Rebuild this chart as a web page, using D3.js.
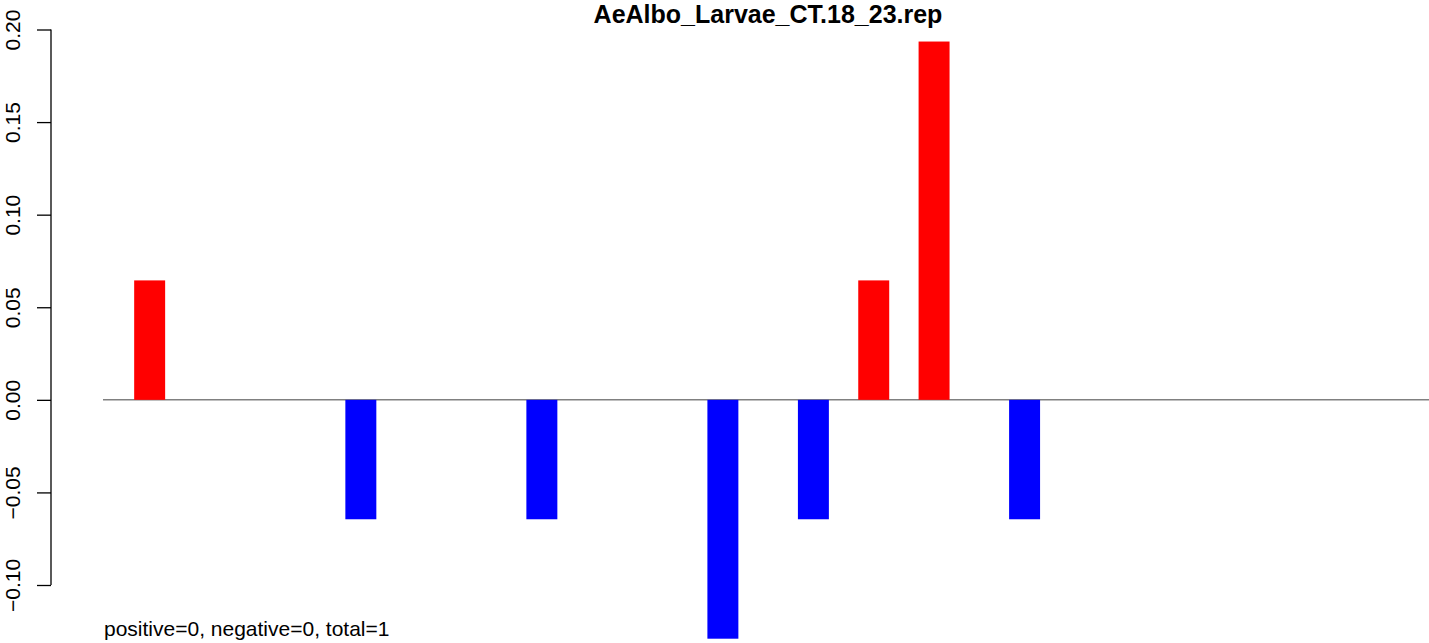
<!DOCTYPE html>
<html>
<head>
<meta charset="utf-8">
<script src="https://cdn.jsdelivr.net/npm/d3@7"></script>
<style>
  html, body { margin: 0; padding: 0; background: #fff; }
  svg { display: block; font-family: "Liberation Sans", Arial, sans-serif; }
</style>
</head>
<body>
<div id="chart"></div>
<script>
// ---- data ----
const title = "AeAlbo_Larvae_CT.18_23.rep";
const footnote = "positive=0, negative=0, total=1";
const nPositions = 44;                       // number of slots on the x axis
const positions = [2, 9, 15, 21, 24, 26, 28, 31];   // 1-based slot of each bar
const values = [0.0645, -0.0645, -0.0645, -0.129, -0.0645, 0.0645, 0.1935, -0.0645];
const yTicks = [-0.10, -0.05, 0.00, 0.05, 0.10, 0.15, 0.20];
const yTickLabels = ["\u22120.10", "\u22120.05", "0.00", "0.05", "0.10", "0.15", "0.20"];

// ---- layout ----
const W = 1429, H = 643;
const svg = d3.select("#chart").append("svg").attr("width", W).attr("height", H);

const slots = d3.range(1, nPositions + 1);
const x = d3.scaleBand().domain(slots).range([104, 104 + nPositions * 30.17]).paddingInner(0).paddingOuter(0);
const y = d3.scaleLinear().domain([-0.10, 0.20]).range([585, 29.5]);

// zero line
svg.append("line")
  .attr("x1", 103).attr("x2", W)
  .attr("y1", y(0)).attr("y2", y(0))
  .attr("stroke", "#808080").attr("stroke-width", 1.5);

// bars
const data = positions.map((p, i) => ({ pos: p, v: values[i] }));
svg.append("g").selectAll("rect").data(data).join("rect")
  .attr("x", d => x(d.pos))
  .attr("width", x.bandwidth() + 0.8)
  .attr("y", d => y(Math.max(0, d.v)))
  .attr("height", d => Math.abs(y(d.v) - y(0)))
  .attr("fill", d => d.v >= 0 ? "#ff0000" : "#0000ff");

// y axis
const yAxis = d3.axisLeft(y).tickValues(yTicks)
  .tickFormat((d, i) => yTickLabels[i]).tickSize(14).tickPadding(0);
const gy = svg.append("g").attr("transform", "translate(51,0)").call(yAxis);
gy.select(".domain").attr("stroke", "#000").attr("stroke-width", 1.3)
  .attr("d", `M0,${y(-0.10)}V${y(0.20)}`);
gy.selectAll(".tick line").attr("stroke", "#000").attr("stroke-width", 1.3);
gy.selectAll(".tick text")
  .attr("font-family", "'Liberation Sans', Arial, sans-serif")
  .attr("font-size", 21)
  .attr("fill", "#000")
  .attr("x", null).attr("dy", null)
  .attr("text-anchor", "middle")
  .attr("transform", "translate(-31,0) rotate(-90)");

// title
svg.append("text")
  .attr("x", 768).attr("y", 23)
  .attr("text-anchor", "middle")
  .attr("font-weight", "bold")
  .attr("font-size", 25)
  .attr("fill", "#000")
  .text(title);

// footnote
svg.append("text")
  .attr("x", 104).attr("y", 636)
  .attr("font-size", 21)
  .attr("fill", "#000")
  .text(footnote);
</script>
</body>
</html>
